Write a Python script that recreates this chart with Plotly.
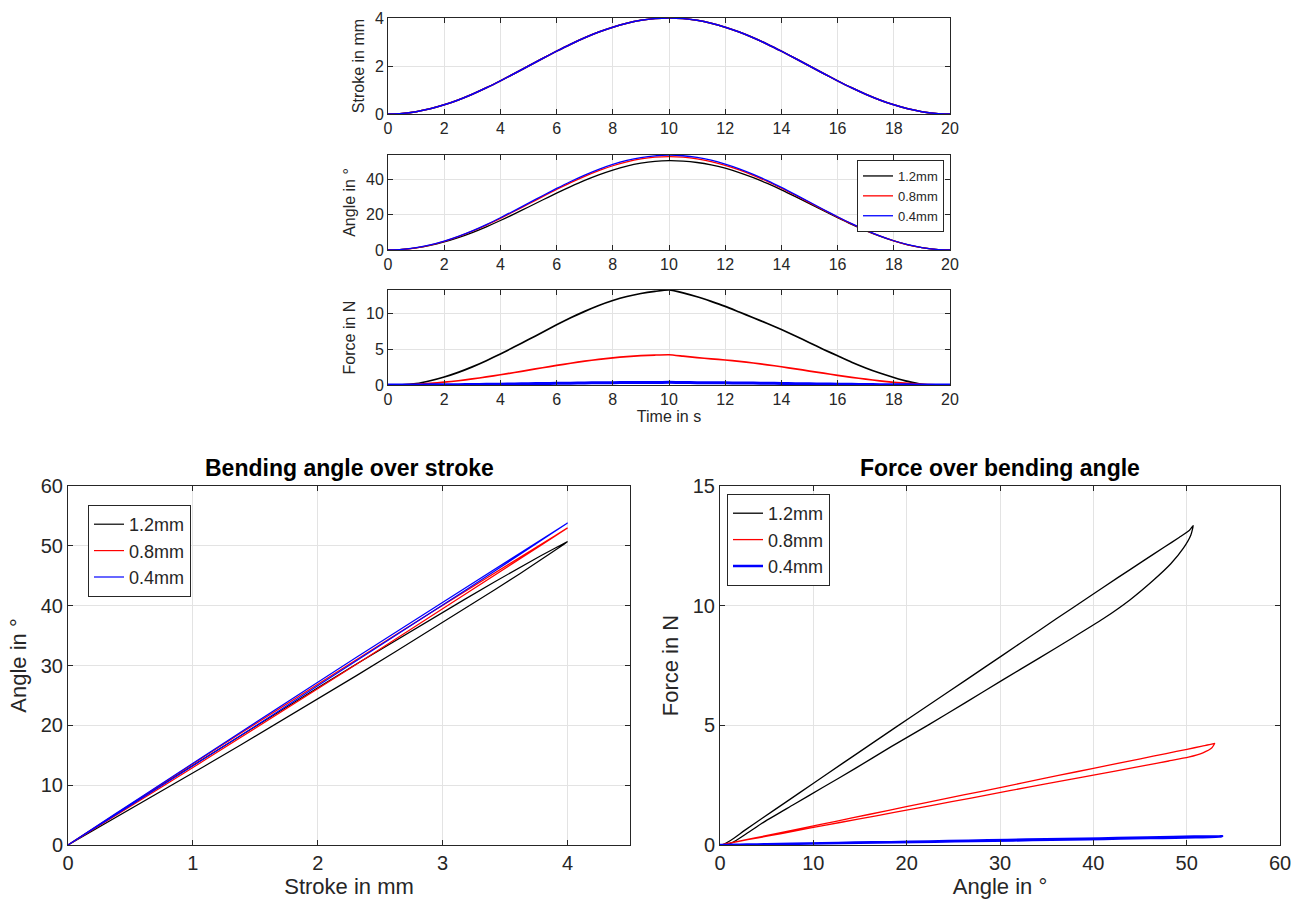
import plotly.graph_objects as go

# ---------------- data ----------------
time_s = [0, 0.5, 1, 1.5, 2, 2.5, 3, 3.5, 4, 4.5, 5, 5.5, 6, 6.5, 7, 7.5, 8, 8.5, 9, 9.5, 10,
          10.5, 11, 11.5, 12, 12.5, 13, 13.5, 14, 14.5, 15, 15.5, 16, 16.5, 17, 17.5, 18, 18.5, 19, 19.5, 20]

stroke_mm = [0, 0.025, 0.098, 0.218, 0.382, 0.586, 0.824, 1.092, 1.382, 1.687, 2.0, 2.313, 2.618, 2.908,
             3.176, 3.414, 3.618, 3.782, 3.902, 3.975, 4.0, 3.975, 3.902, 3.782, 3.618, 3.414, 3.176, 2.908,
             2.618, 2.313, 2.0, 1.687, 1.382, 1.092, 0.824, 0.586, 0.382, 0.218, 0.098, 0.025, 0]

angle_12 = [0, 0.30, 1.17, 2.60, 4.56, 7.02, 9.90, 13.17, 16.72, 20.50, 24.40, 28.35, 32.25, 35.99, 39.48,
            42.62, 45.35, 47.58, 49.23, 50.30, 50.70, 50.45, 49.65, 48.30, 46.40, 43.95, 41.05, 37.75, 34.15,
            30.30, 26.30, 22.25, 18.30, 14.50, 11.00, 7.85, 5.12, 2.93, 1.32, 0.34, 0]
angle_08 = [0, 0.32, 1.26, 2.81, 4.92, 7.56, 10.66, 14.15, 17.95, 21.96, 26.10, 30.26, 34.33, 38.21, 41.82,
            45.04, 47.80, 50.03, 51.66, 52.66, 53.00, 52.68, 51.74, 50.19, 48.08, 45.44, 42.34, 38.85, 35.05,
            31.04, 26.90, 22.74, 18.67, 14.79, 11.18, 7.96, 5.20, 2.97, 1.34, 0.34, 0]
angle_04 = [0, 0.33, 1.29, 2.87, 5.03, 7.72, 10.87, 14.43, 18.30, 22.38, 26.58, 30.80, 34.92, 38.86, 42.51,
            45.76, 48.55, 50.80, 52.45, 53.46, 53.80, 53.47, 52.51, 50.93, 48.77, 46.08, 42.93, 39.37, 35.50,
            31.42, 27.22, 23.00, 18.88, 14.94, 11.29, 8.04, 5.25, 3.00, 1.35, 0.34, 0]

force_12 = [0, 0.02, 0.20, 0.60, 1.13, 1.78, 2.55, 3.42, 4.36, 5.36, 6.38, 7.42, 8.45, 9.44, 10.35, 11.17,
            11.87, 12.44, 12.86, 13.15, 13.35, 12.95, 12.40, 11.75, 11.05, 10.25, 9.45, 8.65, 7.80, 6.90,
            5.95, 5.00, 4.10, 3.20, 2.40, 1.68, 1.06, 0.50, 0.10, 0.0, 0]
force_08 = [0, 0.03, 0.10, 0.22, 0.39, 0.60, 0.85, 1.13, 1.44, 1.76, 2.09, 2.42, 2.75, 3.06, 3.35, 3.60,
            3.82, 4.00, 4.13, 4.21, 4.25, 4.05, 3.85, 3.67, 3.51, 3.32, 3.09, 2.84, 2.56, 2.27, 1.96, 1.66,
            1.36, 1.08, 0.82, 0.58, 0.38, 0.22, 0.10, 0.02, 0]
force_04 = [0, 0.0, 0.01, 0.02, 0.03, 0.05, 0.07, 0.10, 0.12, 0.15, 0.18, 0.21, 0.24, 0.26, 0.29, 0.31,
            0.33, 0.35, 0.36, 0.36, 0.37, 0.35, 0.33, 0.32, 0.30, 0.29, 0.27, 0.24, 0.22, 0.19, 0.17, 0.14,
            0.12, 0.09, 0.07, 0.05, 0.03, 0.02, 0.01, 0.0, 0]

series_names = ["1.2mm", "0.8mm", "0.4mm"]
series_colors = ["#000000", "#ff0000", "#0000ff"]
angles = [angle_12, angle_08, angle_04]
forces = [force_12, force_08, force_04]

# ---------------- figure ----------------
W, H = 1293, 904
FONT = "Liberation Sans, Arial, sans-serif"
AX = "#262626"
GRID = "#e3e3e3"

fig = go.Figure()

for i in range(3):
    fig.add_trace(go.Scatter(x=time_s, y=stroke_mm, mode="lines",
                             line=dict(color=series_colors[i], width=1.5, shape="spline", smoothing=0.8),
                             xaxis="x", yaxis="y", showlegend=False))
for i in range(3):
    fig.add_trace(go.Scatter(x=time_s, y=angles[i], mode="lines", name=series_names[i],
                             line=dict(color=series_colors[i], width=1.3, shape="spline", smoothing=0.8),
                             xaxis="x2", yaxis="y2", legend="legend"))
for i in range(3):
    fig.add_trace(go.Scatter(x=time_s, y=forces[i], mode="lines",
                             line=dict(color=series_colors[i], width=3 if i == 2 else 1.7,
                                       shape="spline", smoothing=0.5),
                             xaxis="x3", yaxis="y3", showlegend=False))
for i in range(3):
    fig.add_trace(go.Scatter(x=stroke_mm, y=angles[i], mode="lines", name=series_names[i],
                             line=dict(color=series_colors[i], width=1.2),
                             xaxis="x4", yaxis="y4", legend="legend2"))
for i in range(3):
    fig.add_trace(go.Scatter(x=angles[i], y=forces[i], mode="lines", name=series_names[i],
                             line=dict(color=series_colors[i], width=2.5 if i == 2 else 1.3,
                                       shape="spline", smoothing=0.5),
                             xaxis="x5", yaxis="y5", legend="legend3"))


def px_x(p):
    return p / W


def px_y(p):
    return 1 - p / H


def axis(domain, anchor, rng, dtick, size, title=None, tsize=None, standoff=None):
    d = dict(domain=domain, anchor=anchor, range=rng, dtick=dtick, tick0=0, automargin=False,
             showline=True, linecolor=AX, linewidth=1, mirror="ticks",
             ticks="inside", ticklen=5, tickcolor=AX,
             showgrid=True, gridcolor=GRID, gridwidth=1, zeroline=False,
             tickfont=dict(family=FONT, size=size, color=AX))
    if title:
        d["title"] = dict(text=title, font=dict(family=FONT, size=tsize, color=AX), standoff=standoff)
    return d


top_x = [px_x(388), px_x(950)]
left_x = [px_x(68), px_x(630)]
right_x = [px_x(720), px_x(1280)]
bot_y = [px_y(845), px_y(486)]

fig.update_layout(
    width=W, height=H,
    margin=dict(l=0, r=0, t=0, b=0, autoexpand=False),
    paper_bgcolor="white", plot_bgcolor="white",
    font=dict(family=FONT, color=AX),
    xaxis=axis(top_x, "y", [0, 20], 2, 16),
    yaxis=axis([px_y(114), px_y(18)], "x", [0, 4], 2, 16, "Stroke in mm", 16, 6),
    xaxis2=axis(top_x, "y2", [0, 20], 2, 16),
    yaxis2=axis([px_y(250), px_y(155)], "x2", [0, 53.9], 20, 16, "Angle in °", 16, 6),
    xaxis3=axis(top_x, "y3", [0, 20], 2, 16, "Time in s", 16, 0),
    yaxis3=axis([px_y(385), px_y(290)], "x3", [0, 13.35], 5, 16, "Force in N", 16, 6),
    xaxis4=axis(left_x, "y4", [0, 4.5], 1, 20, "Stroke in mm", 22, 2),
    yaxis4=axis(bot_y, "x4", [0, 60], 10, 20, "Angle in °", 22, 8),
    xaxis5=axis(right_x, "y5", [0, 60], 10, 20, "Angle in °", 22, 2),
    yaxis5=axis(bot_y, "x5", [0, 15], 5, 20, "Force in N", 22, 8),
    legend=dict(x=px_x(944), y=px_y(160), xanchor="right", yanchor="top",
                bordercolor=AX, borderwidth=1, bgcolor="white", itemwidth=30,
                font=dict(family=FONT, size=13, color=AX), tracegroupgap=0),
    legend2=dict(x=px_x(88), y=px_y(505), xanchor="left", yanchor="top",
                 bordercolor=AX, borderwidth=1, bgcolor="white", itemwidth=30,
                 font=dict(family=FONT, size=18, color=AX), tracegroupgap=0),
    legend3=dict(x=px_x(727), y=px_y(494), xanchor="left", yanchor="top",
                 bordercolor=AX, borderwidth=1, bgcolor="white", itemwidth=30,
                 font=dict(family=FONT, size=18, color=AX), tracegroupgap=0),
    annotations=[
        dict(text="<b>Bending angle over stroke</b>", x=px_x(349), y=px_y(468), xref="paper", yref="paper",
             xanchor="center", yanchor="middle",
             showarrow=False, font=dict(family=FONT, size=23, color="#000000")),
        dict(text="<b>Force over bending angle</b>", x=px_x(1000), y=px_y(468), xref="paper", yref="paper",
             xanchor="center", yanchor="middle",
             showarrow=False, font=dict(family=FONT, size=23, color="#000000")),
    ],
)

fig.write_html("out.html", config={"displayModeBar": False},
               post_script="document.body.style.margin='0';")
